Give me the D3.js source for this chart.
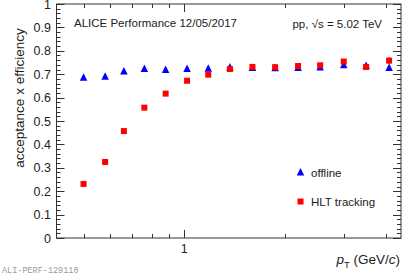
<!DOCTYPE html>
<html>
<head>
<meta charset="utf-8">
<script src="https://cdn.jsdelivr.net/npm/d3@7"></script>
<style>
  body { margin: 0; background: #fff; }
  svg { display: block; font-family: "Liberation Sans", Arial, sans-serif; }
</style>
</head>
<body>
<svg id="chart" width="402" height="277"></svg>
<script>
// pT bin centres (GeV/c)
var ptBins = [0.5, 0.58, 0.66, 0.76, 0.88, 1.02, 1.18, 1.37, 1.6, 1.87, 2.19, 2.55, 3.0, 3.5, 4.1];
var offline = [0.685, 0.689, 0.712, 0.722, 0.718, 0.722, 0.723, 0.729, 0.727, 0.725, 0.726, 0.729, 0.738, 0.735, 0.727];
var offlineErr = [0.003, 0.003, 0.003, 0.003, 0.003, 0.003, 0.004, 0.004, 0.004, 0.005, 0.006, 0.007, 0.008, 0.010, 0.012];
var hlt = [0.231, 0.325, 0.457, 0.557, 0.617, 0.672, 0.698, 0.722, 0.731, 0.730, 0.735, 0.738, 0.754, 0.731, 0.758];
var hltErr = [0.003, 0.003, 0.003, 0.003, 0.003, 0.003, 0.004, 0.004, 0.004, 0.005, 0.006, 0.007, 0.010, 0.012, 0.015];
var yMajor = [0, 0.1, 0.2, 0.3, 0.4, 0.5, 0.6, 0.7, 0.8, 0.9, 1];
var yTickLabels = ["0", "0.1", "0.2", "0.3", "0.4", "0.5", "0.6", "0.7", "0.8", "0.9", "1"];
var xMajor = [1];
var xMinor = [0.5, 0.6, 0.7, 0.8, 0.9, 2, 3, 4];

var svg = d3.select("#chart");
var pLeft = 56.5, pRight = 401, pTop = 4, pBottom = 238;

var x = d3.scaleLog().domain([0.415, 4.45]).range([pLeft, pRight]);
var y = d3.scaleLinear().domain([0, 1]).range([pBottom, pTop]);

var axisColor = "#333";

// frame
svg.append("rect")
  .attr("x", pLeft).attr("y", pTop)
  .attr("width", pRight - pLeft).attr("height", pBottom - pTop)
  .attr("fill", "none").attr("stroke", axisColor).attr("stroke-width", 1);

// y ticks (left + right, inside)
var yMinor = d3.range(0, 101, 2).map(function(d){ return d / 100; });
var tk = svg.append("g").attr("stroke", axisColor).attr("stroke-width", 1);
yMinor.forEach(function(v){
  var major = Math.round(v * 100) % 10 === 0;
  var len = major ? 8 : 4;
  var yy = Math.round(y(v)) + 0.5;
  tk.append("line").attr("x1", pLeft).attr("x2", pLeft + len).attr("y1", yy).attr("y2", yy);
  tk.append("line").attr("x1", pRight - len).attr("x2", pRight).attr("y1", yy).attr("y2", yy);
});

// x ticks (bottom + top, inside)
xMajor.concat(xMinor).forEach(function(v){
  var len = xMajor.indexOf(v) >= 0 ? 8 : 4;
  var xx = Math.round(x(v)) + 0.5;
  tk.append("line").attr("x1", xx).attr("x2", xx).attr("y1", pBottom).attr("y2", pBottom - len);
  tk.append("line").attr("x1", xx).attr("x2", xx).attr("y1", pTop).attr("y2", pTop + len);
});

// y tick labels
svg.append("g").selectAll("text")
  .data(yMajor)
  .join("text")
  .attr("x", 51)
  .attr("y", function(d){ return y(d) + 4.5; })
  .attr("text-anchor", "end")
  .attr("font-size", 12.5)
  .attr("fill", "#222")
  .text(function(d, i){ return yTickLabels[i]; });

// x tick label
svg.append("g").selectAll("text")
  .data(xMajor)
  .join("text")
  .attr("x", function(d){ return x(d); })
  .attr("y", 253)
  .attr("text-anchor", "middle")
  .attr("font-size", 12.5)
  .attr("fill", "#222")
  .text(function(d){ return d; });

// axis titles
svg.append("text")
  .attr("transform", "translate(24,98) rotate(-90)")
  .attr("text-anchor", "middle")
  .attr("font-size", 13.5)
  .attr("fill", "#222")
  .text("acceptance x efficiency");

var xt = svg.append("text")
  .attr("x", 400).attr("y", 264)
  .attr("text-anchor", "end")
  .attr("font-size", 13.5)
  .attr("fill", "#222");
xt.append("tspan").attr("font-style", "italic").text("p");
xt.append("tspan").attr("font-size", 9.5).attr("dy", 4).text("T");
xt.append("tspan").attr("dy", -4).text(" (GeV/");
xt.append("tspan").attr("font-style", "italic").text("c");
xt.append("tspan").text(")");

// labels
svg.append("text")
  .attr("x", 74).attr("y", 27)
  .attr("font-size", 11.5).attr("fill", "#222")
  .text("ALICE Performance 12/05/2017");

var ss = svg.append("text")
  .attr("x", 382).attr("y", 28)
  .attr("text-anchor", "end")
  .attr("font-size", 11.5).attr("fill", "#222");
ss.append("tspan").text("pp, ");
ss.append("tspan").text("\u221As");
ss.append("tspan").text(" = 5.02 TeV");

svg.append("text")
  .attr("x", 2).attr("y", 273)
  .attr("font-family", "'Liberation Mono', 'DejaVu Sans Mono', monospace")
  .attr("font-size", 8.5).attr("fill", "#999")
  .text("ALI-PERF-129110");

// markers
function triangle(g, cx, cy, s) {
  g.append("path")
    .attr("d", "M" + cx + "," + (cy - s * 0.6) + "L" + (cx + s / 2) + "," + (cy + s * 0.4) + "L" + (cx - s / 2) + "," + (cy + s * 0.4) + "Z")
    .attr("fill", "#0000ff");
}
function square(g, cx, cy, s) {
  g.append("rect")
    .attr("x", cx - s / 2).attr("y", cy - s / 2)
    .attr("width", s).attr("height", s)
    .attr("fill", "#ff0000");
}

var off = svg.append("g");
ptBins.forEach(function(p, i){
  off.append("line")
    .attr("x1", x(p)).attr("x2", x(p))
    .attr("y1", y(offline[i] - offlineErr[i])).attr("y2", y(offline[i] + offlineErr[i]))
    .attr("stroke", "#0000ff").attr("stroke-width", 1.2);
  triangle(off, x(p), y(offline[i]), 7.5);
});

var hl = svg.append("g");
ptBins.forEach(function(p, i){
  hl.append("line")
    .attr("x1", x(p)).attr("x2", x(p))
    .attr("y1", y(hlt[i] - hltErr[i])).attr("y2", y(hlt[i] + hltErr[i]))
    .attr("stroke", "#ff0000").attr("stroke-width", 1.2);
  square(hl, x(p), y(hlt[i]), 6);
});

// legend
var lg = svg.append("g");
triangle(lg, 300.5, 172.5, 7.5);
lg.append("text").attr("x", 311).attr("y", 176.5)
  .attr("font-size", 11.5).attr("fill", "#222").text("offline");
square(lg, 300.5, 201.5, 6);
lg.append("text").attr("x", 311).attr("y", 205.5)
  .attr("font-size", 11.5).attr("fill", "#222").text("HLT tracking");
</script>
</body>
</html>
